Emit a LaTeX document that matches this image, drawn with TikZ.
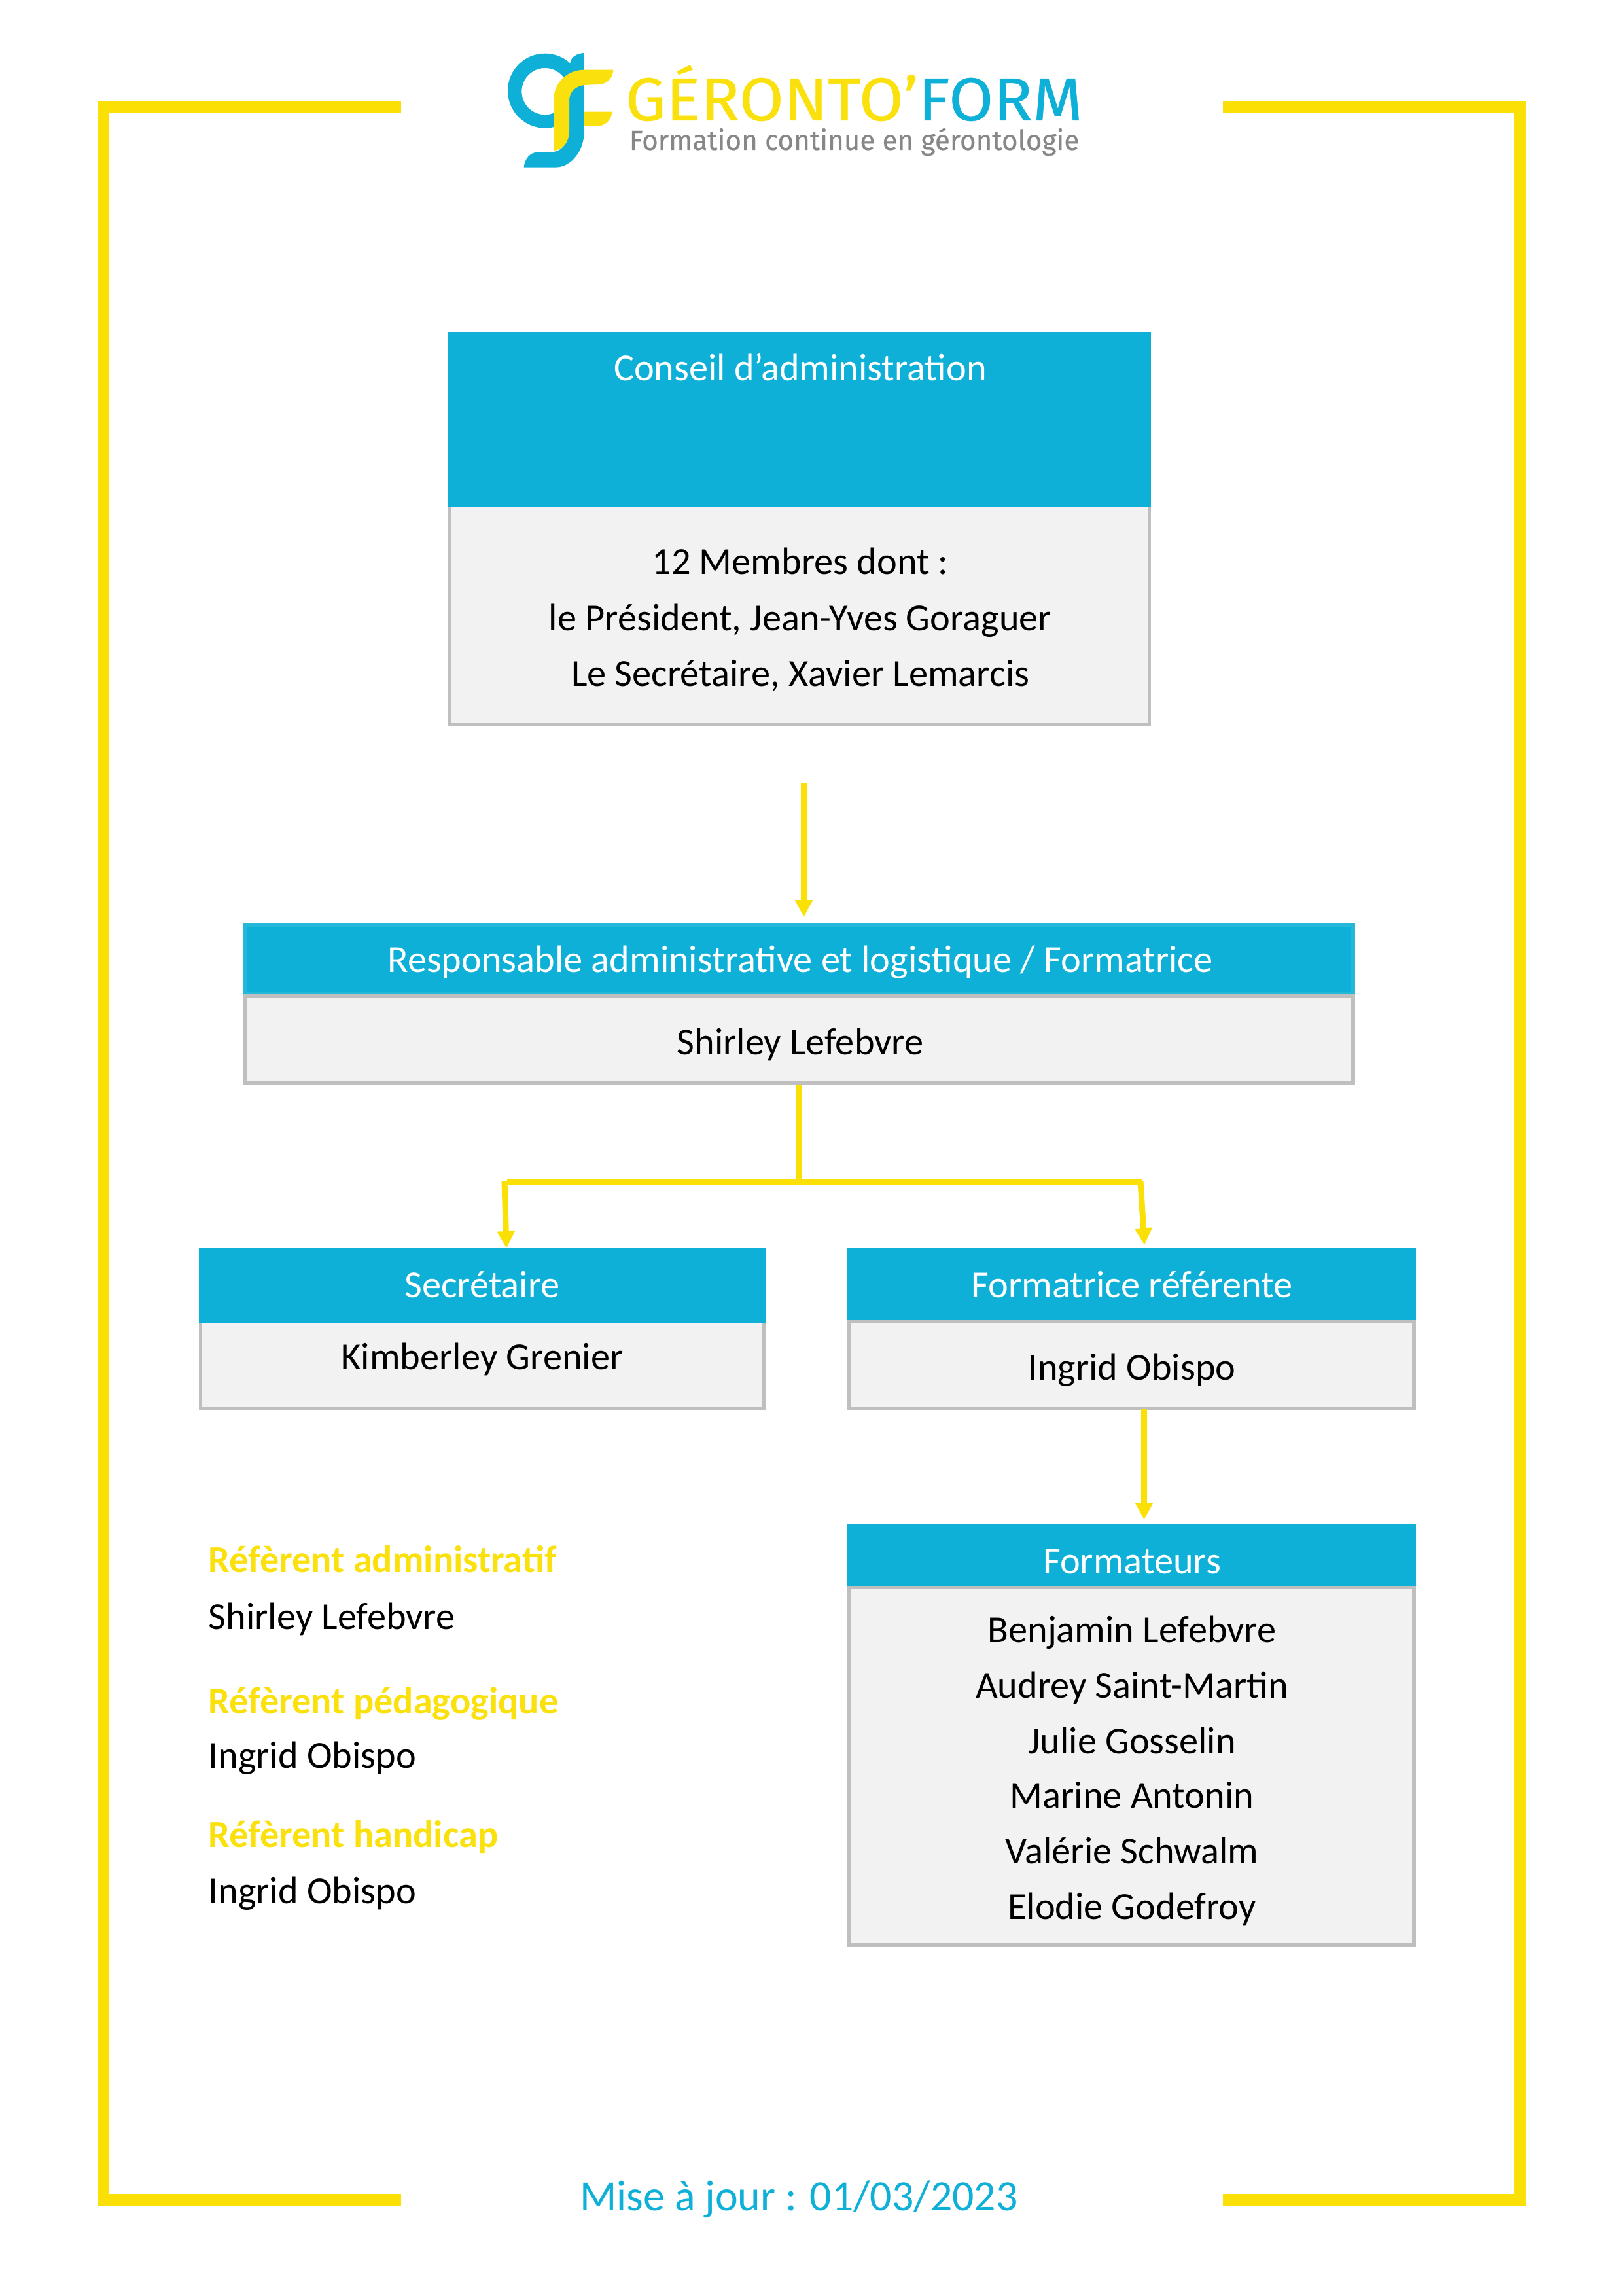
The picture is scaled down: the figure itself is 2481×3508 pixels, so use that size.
\documentclass[tikz,border=0pt]{standalone}
\usepackage{fontspec}
\usepackage{graphicx}
\setmainfont{Carlito}
\newfontfamily\logofont[FakeBold=0.5]{Fira Sans}
\usetikzlibrary{fit,arrows.meta}
\definecolor{gfblue}{HTML}{0EB0D8}
\definecolor{gfedge}{HTML}{25B8DA}
\definecolor{gfyellow}{HTML}{FBE006}
\definecolor{logoyellow}{HTML}{FAE10E}
\definecolor{bodyfill}{HTML}{F2F2F2}
\definecolor{bodyedge}{HTML}{BFBFBF}
\definecolor{taggrey}{HTML}{878787}
\tikzset{
  x=0.24pt,y=-0.24pt,
  frameline/.style={draw=gfyellow,line width=4.3pt,line cap=butt,line join=miter},
  headbox/.style={inner sep=0pt,fill=gfblue},
  edgedhead/.style={headbox,draw=gfedge,line width=1.3pt},
  bodybox/.style={inner sep=0pt,fill=bodyfill,draw=bodyedge,line width=1.3pt},
  label/.style={inner sep=0pt,anchor=base,font=\fontsize{14}{17}\selectfont},
  whitelabel/.style={label,text=white},
  blacklabel/.style={label,text=black},
  sidehead/.style={inner sep=0pt,anchor=base west,font=\fontsize{14}{17}\selectfont\bfseries,text=logoyellow},
  sidename/.style={inner sep=0pt,anchor=base west,font=\fontsize{14}{17}\selectfont,text=black},
  link/.style={draw=gfyellow,line width=2.16pt},
  arrowlink/.style={link,-{Triangle[length=6.2pt,width=6.2pt]}},
}
\begin{document}
\begin{tikzpicture}
\useasboundingbox (0,0) rectangle (2481,3508);
% frame
\coordinate (ftl) at (613,163);
\coordinate (ftc) at (158.5,163);
\coordinate (fbc) at (158.5,3361);
\coordinate (fbl) at (613,3361);
\coordinate (ftr) at (1869,163);
\coordinate (ftd) at (2323,163);
\coordinate (fbd) at (2323,3361);
\coordinate (fbr) at (1869,3361);
\draw[frameline] (ftl) -- (ftc) -- (fbc) -- (fbl);
\draw[frameline] (ftr) -- (ftd) -- (fbd) -- (fbr);
% logo mark
\begin{scope}[shift={(760,70)},x=0.08pt,y=-0.08pt]
  \fill[gfblue,even odd rule] (219,206) ellipse [x radius=171,y radius=171]
        (219,209) ellipse [x radius=107,y radius=107];
  \fill[gfblue] (398,33) .. controls (365,35) and (340,50) .. (335,75) -- (330,200) -- (330,380)
     .. controls (330,440) and (300,488) .. (240,488) -- (185,488)
     .. controls (150,488) and (125,520) .. (122,557) -- (270,557)
     .. controls (340,555) and (398,480) .. (398,395) -- cycle;
  \fill[logoyellow] (258,480) -- (258,250) .. controls (258,170) and (320,110) .. (400,110) -- (532,110)
     .. controls (530,150) and (500,177) .. (465,177) -- (398,180)
     .. controls (360,185) and (330,210) .. (330,250) -- (330,390)
     .. controls (330,440) and (300,478) .. (258,480) -- cycle;
  \fill[logoyellow] (398,302) -- (527,302) .. controls (522,340) and (495,368) .. (460,368) -- (398,368) -- cycle;
\end{scope}
\node[inner sep=0pt,anchor=base west,font=\logofont] (logotext) at (955,184)
  {\resizebox{167.7pt}{20.3pt}{\textcolor{logoyellow}{GÉRONTO’}\textcolor{gfblue}{FORM}}};
\node[inner sep=0pt,anchor=base west,font=\logofont,text=taggrey] (logotag) at (961,229)
  {\resizebox{165pt}{!}{Formation continue en gérontologie}};
% boxes
\node[bodybox,fit={(687.5,760)(1756.5,1106.5)}] (conseilB) {};
\node[headbox,fit={(685,508)(1759,775)}] (conseilH) {};
\node[whitelabel] (conseilT) at (1223,582) {Conseil d’administration};
\node[blacklabel] (conseilL1) at (1223,878) {12 Membres dont :};
\node[blacklabel] (conseilL2) at (1223,963) {le Président, Jean-Yves Goraguer};
\node[blacklabel] (conseilL3) at (1223,1048) {Le Secrétaire, Xavier Lemarcis};

\node[edgedhead,fit={(375,1413)(2068,1519)}] (respH) {};
\node[bodybox,fit={(375,1522)(2068,1655)}] (respB) {};
\node[whitelabel] (respT) at (1223,1485) {Responsable administrative et logistique / Formatrice};
\node[blacklabel] (respN) at (1223,1611) {Shirley Lefebvre};

\node[bodybox,fit={(306.5,2000)(1167.5,2152.5)}] (secB) {};
\node[headbox,fit={(304,1907)(1170,2022)}] (secH) {};
\node[whitelabel] (secT) at (737,1982) {Secrétaire};
\node[blacklabel] (secN) at (737,2092) {Kimberley Grenier};

\node[headbox,fit={(1295,1907)(2164,2017)}] (formH) {};
\node[bodybox,fit={(1298,2019.5)(2161,2152.5)}] (formB) {};
\node[whitelabel] (formT) at (1730,1982) {Formatrice référente};
\node[blacklabel] (formN) at (1730,2108) {Ingrid Obispo};

\node[headbox,fit={(1295,2329)(2164,2423)}] (tutH) {};
\node[bodybox,fit={(1298,2425.5)(2161,2972)}] (tutB) {};
\node[whitelabel] (tutT) at (1730,2404) {Formateurs};
\node[blacklabel] (tut1) at (1730,2509) {Benjamin Lefebvre};
\node[blacklabel] (tut2) at (1730,2594) {Audrey Saint-Martin};
\node[blacklabel] (tut3) at (1730,2679) {Julie Gosselin};
\node[blacklabel] (tut4) at (1730,2762) {Marine Antonin};
\node[blacklabel] (tut5) at (1730,2847) {Valérie Schwalm};
\node[blacklabel] (tut6) at (1730,2932) {Elodie Godefroy};

% side list
\node[sidehead] (refA) at (318,2402) {Réfèrent administratif};
\node[sidename] (refAn) at (318,2489) {Shirley Lefebvre};
\node[sidehead] (refP) at (318,2618) {Réfèrent pédagogique};
\node[sidename] (refPn) at (318,2701) {Ingrid Obispo};
\node[sidehead] (refH) at (318,2822) {Réfèrent handicap};
\node[sidename] (refHn) at (318,2908) {Ingrid Obispo};

\node[inner sep=0pt,anchor=base,font=\fontsize{15.8}{19}\selectfont,text=gfblue] (update) at (1221,3377) {Mise à jour : 01/03/2023};

% connectors
\coordinate (caS) at (1228.5,1196);
\coordinate (caE) at (1228.5,1401);
\draw[arrowlink] (caS) -- (caE);
\coordinate (barL) at (775,1805.5);
\coordinate (barR) at (1745,1805.5);
\coordinate (dropL) at (771,1805);
\coordinate (dropR) at (1743,1805);
\coordinate (arrSec) at (774,1907);
\coordinate (arrForm) at (1749,1902);
\draw[link] (respB.south) -- (respB.south |- barL);
\draw[link] (barL) -- (barR);
\draw[arrowlink] (dropL) -- (arrSec);
\draw[arrowlink] (dropR) -- (arrForm);
\coordinate (fS) at (1748.5,2153);
\coordinate (fE) at (1748.5,2322);
\draw[arrowlink] (fS) -- (fE);
\end{tikzpicture}
\end{document}
